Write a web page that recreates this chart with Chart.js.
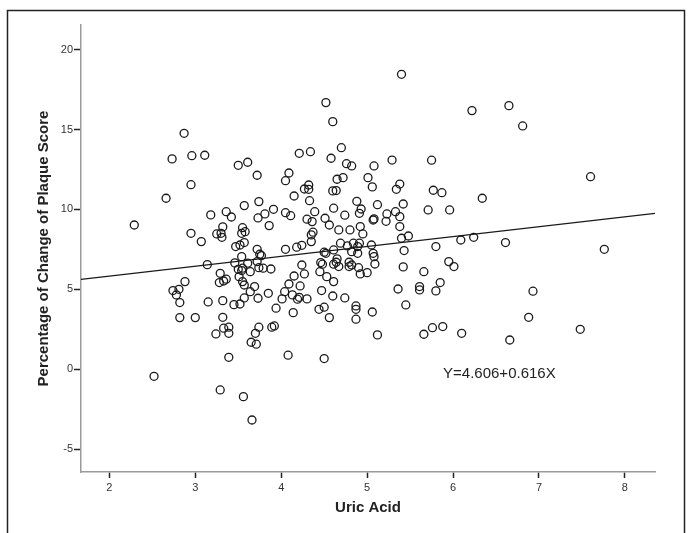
<!DOCTYPE html>
<html>
<head>
<meta charset="utf-8">
<script src="https://cdn.jsdelivr.net/npm/chart.js@4/dist/chart.umd.min.js"></script>
<style>
    html, body { margin: 0; padding: 0; background: #fff; }
</style>
</head>
<body>
<canvas id="plaque-chart" width="689" height="533"></canvas>
<script>
// values, one entry per subject
const uricAcid = [
    2.87, 2.73, 2.96, 3.11, 2.95, 3.50, 3.61, 3.72, 2.66, 3.57,
    3.74, 3.18, 3.36, 3.42, 3.73, 2.29, 3.32, 3.55, 2.95, 3.25,
    3.30, 3.58, 3.54, 3.31, 3.07, 3.47, 3.52, 3.57, 3.72, 3.14,
    3.46, 3.54, 3.61, 3.72, 3.50, 3.54, 3.55, 3.64, 3.74, 3.29,
    3.51, 2.88, 3.28, 3.33, 3.36, 3.55, 3.57, 3.69, 2.74, 2.81,
    2.78, 3.64, 3.73, 2.82, 3.15, 3.32, 3.45, 3.52, 3.57, 2.82,
    3.00, 3.32, 3.33, 3.39, 3.39, 3.24, 3.74, 3.70, 3.65, 3.71,
    3.39, 2.52, 3.29, 3.56, 3.66, 5.40, 4.52, 4.60, 4.70, 4.21,
    4.34, 4.58, 4.76, 4.82, 5.08, 5.29, 5.75, 4.09, 4.05, 4.65,
    4.72, 5.01, 5.06, 5.38, 5.34, 4.27, 4.32, 4.32, 4.60, 4.64,
    5.77, 5.87, 4.15, 4.33, 4.88, 5.12, 5.42, 3.81, 3.91, 4.05,
    4.11, 4.39, 4.61, 4.93, 4.91, 4.74, 4.30, 4.36, 4.51, 5.08,
    5.07, 5.23, 5.22, 5.33, 5.38, 5.71, 5.96, 3.86, 4.56, 4.67,
    4.80, 4.92, 5.38, 4.37, 4.35, 4.35, 4.95, 5.40, 5.48, 5.80,
    5.43, 5.95, 3.75, 3.77, 3.79, 3.88, 4.05, 4.18, 4.24, 4.69,
    4.50, 4.52, 4.61, 4.77, 4.84, 4.91, 4.89, 4.82, 4.89, 5.05,
    5.07, 5.08, 5.09, 4.24, 4.46, 4.48, 4.45, 4.65, 4.64, 4.61,
    4.67, 4.79, 4.82, 4.79, 4.90, 4.92, 5.00, 5.42, 5.66, 4.27,
    4.15, 4.53, 4.61, 4.09, 4.22, 3.85, 4.04, 4.47, 4.13, 4.19,
    4.21, 4.30, 4.01, 4.60, 4.74, 5.36, 5.61, 5.61, 5.85, 5.80,
    3.94, 4.14, 4.44, 4.50, 4.87, 4.87, 5.06, 5.45, 4.56, 4.87,
    3.89, 3.92, 5.12, 5.66, 5.76, 5.88, 4.08, 4.50, 6.22, 6.65,
    6.81, 7.60, 6.34, 6.09, 6.24, 6.61, 7.76, 6.01, 6.93, 6.88,
    6.10, 6.66, 7.48
];
const plaqueChange = [
    14.76, 13.16, 13.36, 13.39, 11.55, 12.76, 12.95, 12.14, 10.70, 10.24,
    10.49, 9.66, 9.86, 9.53, 9.47, 9.03, 8.91, 8.86, 8.51, 8.47,
    8.51, 8.61, 8.51, 8.26, 7.99, 7.68, 7.78, 7.93, 7.51, 6.55,
    6.66, 7.05, 6.64, 6.74, 6.26, 6.18, 6.33, 6.11, 6.36, 6.01,
    5.80, 5.49, 5.43, 5.53, 5.64, 5.49, 5.28, 5.18, 4.93, 5.01,
    4.66, 4.86, 4.45, 4.18, 4.22, 4.30, 4.05, 4.09, 4.47, 3.24,
    3.24, 3.26, 2.58, 2.64, 2.26, 2.22, 2.64, 2.26, 1.70, 1.58,
    0.76, -0.43, -1.28, -1.70, -3.16, 18.45, 16.68, 15.49, 13.86, 13.51,
    13.61, 13.20, 12.86, 12.72, 12.72, 13.09, 13.08, 12.28, 11.80, 11.89,
    11.99, 11.99, 11.41, 11.59, 11.26, 11.28, 11.26, 11.53, 11.16, 11.18,
    11.20, 11.05, 10.84, 10.55, 10.51, 10.30, 10.34, 9.72, 10.01, 9.80,
    9.61, 9.86, 10.08, 10.03, 9.76, 9.64, 9.39, 9.24, 9.45, 9.41,
    9.34, 9.72, 9.26, 9.86, 9.55, 9.97, 9.97, 8.99, 9.03, 8.72,
    8.72, 8.93, 8.93, 8.58, 8.41, 7.99, 8.47, 8.20, 8.34, 7.68,
    7.43, 6.74, 7.20, 7.11, 6.33, 6.28, 7.51, 7.64, 7.76, 7.89,
    7.33, 7.26, 7.47, 7.72, 7.89, 7.89, 7.68, 7.36, 7.26, 7.78,
    7.26, 7.05, 6.59, 6.53, 6.68, 6.58, 6.11, 6.91, 6.70, 6.58,
    6.43, 6.70, 6.53, 6.43, 6.36, 5.97, 6.05, 6.41, 6.11, 5.97,
    5.84, 5.80, 5.49, 5.34, 5.22, 4.76, 4.86, 4.93, 4.66, 4.39,
    4.51, 4.41, 4.41, 4.59, 4.47, 5.03, 5.18, 4.97, 5.43, 4.91,
    3.83, 3.55, 3.76, 3.89, 3.97, 3.76, 3.59, 4.03, 3.24, 3.14,
    2.64, 2.72, 2.16, 2.20, 2.61, 2.68, 0.89, 0.68, 16.18, 16.49,
    15.22, 12.05, 10.70, 8.09, 8.26, 7.93, 7.51, 6.43, 4.89, 3.26,
    2.26, 1.84, 2.51
];

const xTicks = [2, 3, 4, 5, 6, 7, 8];
const yTicks = [-5, 0, 5, 10, 15, 20];

// fit line end points (Y=4.606+0.616X) at the axis limits
const fitX = [1.67, 8.35];
const fitY = [5.63, 9.75];
const fitLabel = "Y=4.606+0.616X";

const ctx = document.getElementById("plaque-chart");

const frameAndLabel = {
    id: "frameAndLabel",
    beforeDraw(chart) {
        const c = chart.ctx;
        c.save();
        c.fillStyle = "#fff";
        c.fillRect(0, 0, chart.width, chart.height);
        c.restore();
    },
    afterDraw(chart) {
        const c = chart.ctx;
        const { x, y } = chart.scales;
        c.save();
        c.strokeStyle = "#222";
        c.lineWidth = 1.5;
        c.strokeRect(7.5, 10.5, 677, 540);
        c.fillStyle = "#222";
        c.font = "15px 'Liberation Sans', Arial, sans-serif";
        c.textBaseline = "middle";
        c.fillText(fitLabel, x.getPixelForValue(6.0) - 10, y.getPixelForValue(-0.25));
        c.restore();
    },
};

const points = uricAcid.map((v, i) => ({ x: v, y: plaqueChange[i] }));

const data = {
    datasets: [
        {
            type: "line",
            data: fitX.map((v, i) => ({ x: v, y: fitY[i] })),
            borderColor: "#1a1a1a",
            borderWidth: 1.3,
            pointRadius: 0,
            fill: false,
        },
        {
            type: "scatter",
            data: points,
            pointStyle: "circle",
            pointRadius: 4,
            borderWidth: 1.3,
            borderColor: "#1a1a1a",
            backgroundColor: "rgba(0,0,0,0)",
        },
    ],
};

const tickFont = { family: "'Liberation Sans', Arial, sans-serif", size: 11 };
const titleFont = { family: "'Liberation Sans', Arial, sans-serif", size: 15, weight: "bold" };

const config = {
    type: "scatter",
    data,
    plugins: [frameAndLabel],
    options: {
        responsive: false,
        animation: false,
        devicePixelRatio: 1,
        layout: { padding: { left: 0, top: 25, right: 34, bottom: 0 } },
        plugins: {
            legend: { display: false },
            tooltip: { enabled: false },
        },
        scales: {
            x: {
                type: "linear",
                min: 1.67,
                max: 8.35,
                afterFit: (scale) => { scale.height = 61; },
                afterBuildTicks: (scale) => { scale.ticks = xTicks.map((v) => ({ value: v })); },
                border: { display: true, color: "#9a9a9a", width: 1.5 },
                grid: { drawOnChartArea: false, drawTicks: true, tickLength: 6, tickColor: "#222", tickWidth: 1.5 },
                ticks: { color: "#333", font: tickFont, padding: 3, maxRotation: 0 },
                title: { display: true, text: "Uric Acid", color: "#222", font: titleFont, padding: { top: 16, bottom: 16 } },
            },
            y: {
                type: "linear",
                min: -6.41,
                max: 21.53,
                afterFit: (scale) => { scale.width = 81; },
                afterBuildTicks: (scale) => { scale.ticks = yTicks.map((v) => ({ value: v })); },
                border: { display: true, color: "#9a9a9a", width: 1.5 },
                grid: { drawOnChartArea: false, drawTicks: true, tickLength: 7, tickColor: "#222", tickWidth: 1.5 },
                ticks: { color: "#333", font: tickFont, padding: 1 },
                title: { display: true, text: "Percentage of Change of Plaque Score", color: "#222", font: titleFont, padding: { top: 35, bottom: 0 } },
            },
        },
    },
};

new Chart(ctx, config);
</script>
</body>
</html>
